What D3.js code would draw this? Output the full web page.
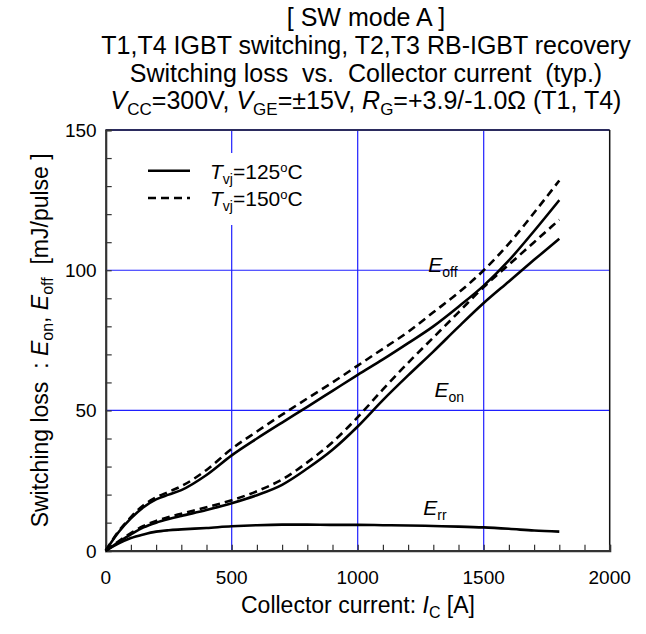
<!DOCTYPE html>
<html><head><meta charset="utf-8">
<script src="https://cdn.jsdelivr.net/npm/d3@7"></script>
<style>
html,body{margin:0;padding:0;background:#fff;}
text{font-family:"Liberation Sans",Arial,sans-serif;fill:#000;}
</style></head>
<body>
<svg id="chart" width="646" height="634"></svg>
<script>
// ---- data ----
const currents = [0,50,100,150,200,250,300,400,500,600,700,800,900,1000,1100,1200,1300,1400,1500,1600,1700,1800];
const eoff125 = [0,6.5,11.5,15.5,18.3,20.0,21.6,27.0,34.0,40.0,45.7,51.3,57.0,62.7,68.2,74.0,80.0,87.0,94.5,103.5,114.0,125.0];
const eoff150 = [0,6.8,12.0,16.2,19.0,21.0,23.0,28.8,36.3,42.5,48.5,54.3,60.0,66.0,72.0,78.0,85.0,92.0,100.0,109.5,120.5,132.0];
const eon125  = [0,3.0,5.8,8.3,10.0,11.3,12.4,14.5,16.9,19.8,23.5,29.3,36.0,44.3,53.7,62.5,71.0,79.8,88.3,96.0,103.7,111.2];
const eon150  = [0,3.3,6.3,8.8,10.6,12.0,13.2,15.5,18.0,21.2,25.4,31.5,38.7,47.6,57.5,67.0,76.0,85.0,94.0,102.0,110.0,118.0];
const err125  = [0,2.5,4.5,5.8,6.8,7.3,7.6,8.1,8.7,9.1,9.3,9.3,9.2,9.2,9.1,9.0,8.8,8.6,8.3,7.8,7.2,6.8];
const xTicks = [0,500,1000,1500,2000];
const yTicks = [0,50,100,150];
const xGrid = [500,1000,1500];
const yGrid = [50,100];

const svg = d3.select("#chart");
const L=105.7, R=609.7, T=130, B=550.7;
const x = d3.scaleLinear().domain([0,2000]).range([L,R]);
const y = d3.scaleLinear().domain([0,150]).range([B,T]);

// grid
svg.append("g").selectAll("line").data(xGrid).join("line")
  .attr("x1",d=>x(d)).attr("x2",d=>x(d)).attr("y1",T).attr("y2",B)
  .attr("stroke","#1f1fff").attr("stroke-width",1.2);
svg.append("g").selectAll("line").data(yGrid).join("line")
  .attr("x1",L).attr("x2",R).attr("y1",d=>y(d)).attr("y2",d=>y(d))
  .attr("stroke","#1f1fff").attr("stroke-width",1.2);

// frame top/right
svg.append("line").attr("x1",L).attr("x2",R).attr("y1",T).attr("y2",T).attr("stroke","#2b2b5e").attr("stroke-width",2);
svg.append("line").attr("x1",R).attr("x2",R).attr("y1",T).attr("y2",B).attr("stroke","#111").attr("stroke-width",1.5);

// axes with inward minor ticks
const xAxis = d3.axisBottom(x).tickValues(d3.range(0,2001,100)).tickSize(-6).tickFormat("");
const gx = svg.append("g").attr("transform",`translate(0,${B})`).call(xAxis);
const yAxis = d3.axisLeft(y).tickValues(d3.range(0,151,10)).tickSize(-6).tickFormat("");
const gy = svg.append("g").attr("transform",`translate(${L},0)`).call(yAxis);
[gx,gy].forEach(g=>{
  g.select(".domain").attr("stroke","#333").attr("stroke-width",2.2);
  g.selectAll(".tick line").attr("stroke","#333").attr("stroke-width",1.2);
});

// tick labels
svg.append("g").selectAll("text").data(xTicks).join("text")
  .attr("x",d=>x(d)).attr("y",B+33).attr("text-anchor","middle")
  .style("font-size","19px").text(d=>d);
svg.append("g").selectAll("text").data(yTicks).join("text")
  .attr("x",L-9).attr("y",d=>y(d)+7).attr("text-anchor","end")
  .style("font-size","19px").text(d=>d);

// curves
const line = d3.line().x(d=>x(d[0])).y(d=>y(d[1])).curve(d3.curveMonotoneX);
const series = [
  {v:eoff125,dash:null},{v:eoff150,dash:"8,5"},
  {v:eon125,dash:null},{v:eon150,dash:"8,5"},
  {v:err125,dash:null}
];
series.forEach(s=>{
  svg.append("path").datum(currents.map((c,i)=>[c,s.v[i]]))
    .attr("d",line).attr("fill","none").attr("stroke","#000")
    .attr("stroke-width",2.6).attr("stroke-dasharray",s.dash);
});

// legend
svg.append("rect").attr("x",140).attr("y",153).attr("width",168).attr("height",72).attr("fill","#fff");
const leg = [{t:"125",dash:null,yy:170.7},{t:"150",dash:"8,5",yy:198}];
leg.forEach(l=>{
  svg.append("line").attr("x1",148).attr("x2",190).attr("y1",l.yy).attr("y2",l.yy)
    .attr("stroke","#000").attr("stroke-width",2.4).attr("stroke-dasharray",l.dash);
  const t = svg.append("text").attr("x",210).attr("y",l.yy+8).style("font-size","21px");
  t.append("tspan").style("font-style","italic").text("T");
  t.append("tspan").attr("dy",5).style("font-size","14px").text("vj");
  t.append("tspan").attr("dy",-5).text("="+l.t);
  t.append("tspan").attr("dy",-7).style("font-size","13px").text("o");
  t.append("tspan").attr("dy",7).text("C");
});

// curve labels
function eLabel(px,py,sub){
  const t = svg.append("text").attr("x",px).attr("y",py).style("font-size","21px");
  t.append("tspan").style("font-style","italic").text("E");
  t.append("tspan").attr("dy",5).style("font-size","14px").text(sub);
}
eLabel(x(1280),y(100)+2,"off");
eLabel(x(1305),y(55)+1,"on");
eLabel(x(1260),y(12.8),"rr");

// title
const title = svg.append("g").style("font-size","25px").attr("text-anchor","middle");
title.append("text").attr("x",366).attr("y",26).text("[ SW mode A ]");
title.append("text").attr("x",366).attr("y",54).text("T1,T4 IGBT switching, T2,T3 RB-IGBT recovery");
title.append("text").attr("x",366).attr("y",82).attr("xml:space","preserve").text("Switching loss  vs.  Collector current  (typ.)");
const t4 = title.append("text").attr("x",366).attr("y",109);
t4.append("tspan").style("font-style","italic").text("V");
t4.append("tspan").attr("dy",6).style("font-size","17px").text("CC");
t4.append("tspan").attr("dy",-6).text("=300V, ");
t4.append("tspan").style("font-style","italic").text("V");
t4.append("tspan").attr("dy",6).style("font-size","17px").text("GE");
t4.append("tspan").attr("dy",-6).text("=±15V, ");
t4.append("tspan").style("font-style","italic").text("R");
t4.append("tspan").attr("dy",6).style("font-size","17px").text("G");
t4.append("tspan").attr("dy",-6).text("=+3.9/-1.0Ω (T1, T4)");

// x axis label
const xl = svg.append("text").attr("x",358).attr("y",613).attr("text-anchor","middle").style("font-size","23px");
xl.append("tspan").text("Collector current: ");
xl.append("tspan").style("font-style","italic").text("I");
xl.append("tspan").attr("dy",5).style("font-size","16px").text("C");
xl.append("tspan").attr("dy",-5).text(" [A]");

// y axis label
const yl = svg.append("text").attr("transform",`translate(48,${(T+B)/2}) rotate(-90)`)
  .attr("text-anchor","middle").style("font-size","23px").attr("xml:space","preserve");
yl.append("tspan").text("Switching loss  : ");
yl.append("tspan").style("font-style","italic").text("E");
yl.append("tspan").attr("dy",5).style("font-size","16px").text("on");
yl.append("tspan").attr("dy",-5).text(", ");
yl.append("tspan").style("font-style","italic").text("E");
yl.append("tspan").attr("dy",5).style("font-size","16px").text("off");
yl.append("tspan").attr("dy",-5).text("  [mJ/pulse ]");
</script>
</body></html>
